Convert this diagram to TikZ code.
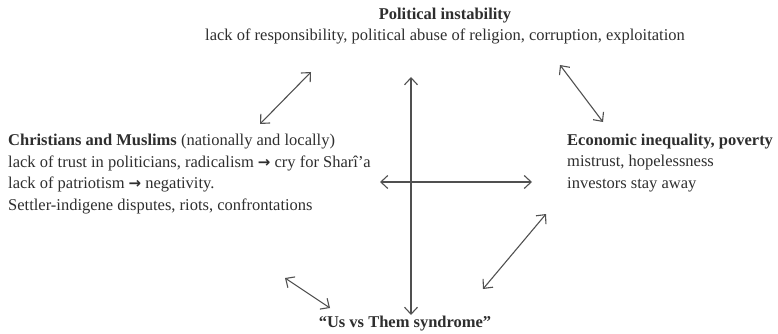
\documentclass[tikz,border=0pt]{standalone}
\usepackage{fontspec}
\setmainfont{Liberation Serif}
\usetikzlibrary{arrows.meta}
\definecolor{txt}{HTML}{2E2E2E}
\definecolor{arr}{HTML}{505050}
\newfontfamily\symfont{DejaVu Sans}
\tikzset{
  lbl/.style={inner sep=0pt, text=txt, font=\fontsize{16.5}{21.7}\selectfont, align=left},
  dbl/.style={draw=arr, line width=1.1pt, {Straight Barb[length=7pt,width=13pt]}-{Straight Barb[length=7pt,width=13pt]}}
}
\newcommand{\rarr}{{\symfont\bfseries\fontsize{15}{21.7}\selectfont →}}
\begin{document}
\begin{tikzpicture}[x=1pt,y=-1pt]
\useasboundingbox (0,0) rectangle (778,334);
% texts
\node[lbl, align=center, anchor=center] (pol) at (445,26) {\textbf{Political instability}\\lack of responsibility, political abuse of religion, corruption, exploitation};
\node[lbl, anchor=west] (chr) at (8,174) {\textbf{Christians and Muslims} (nationally and locally)\\lack of trust in politicians, radicalism \rarr\ cry for Sharî’a\\lack of patriotism \rarr\ negativity.\\Settler-indigene disputes, riots, confrontations};
\node[lbl, anchor=west] (eco) at (567,163) {\textbf{Economic inequality, poverty}\\mistrust, hopelessness\\investors stay away};
\node[lbl, anchor=center] (us) at (405,324) {\textbf{“Us vs Them syndrome”}};
% arrow end points
\coordinate (a1) at (311,72); \coordinate (a2) at (260,124);
\coordinate (b1) at (560,65); \coordinate (b2) at (603,122);
\coordinate (v1) at (411,77); \coordinate (v2) at (411,315);
\coordinate (h1) at (380,182); \coordinate (h2) at (532,182);
\coordinate (c1) at (285,278); \coordinate (c2) at (330,308);
\coordinate (d1) at (546,214); \coordinate (d2) at (483,289);
\draw[dbl] (a1) -- (a2);
\draw[dbl] (b1) -- (b2);
\draw[dbl] (v1) -- (v2);
\draw[dbl] (h1) -- (h2);
\draw[dbl] (c1) -- (c2);
\draw[dbl] (d1) -- (d2);
\end{tikzpicture}
\end{document}
